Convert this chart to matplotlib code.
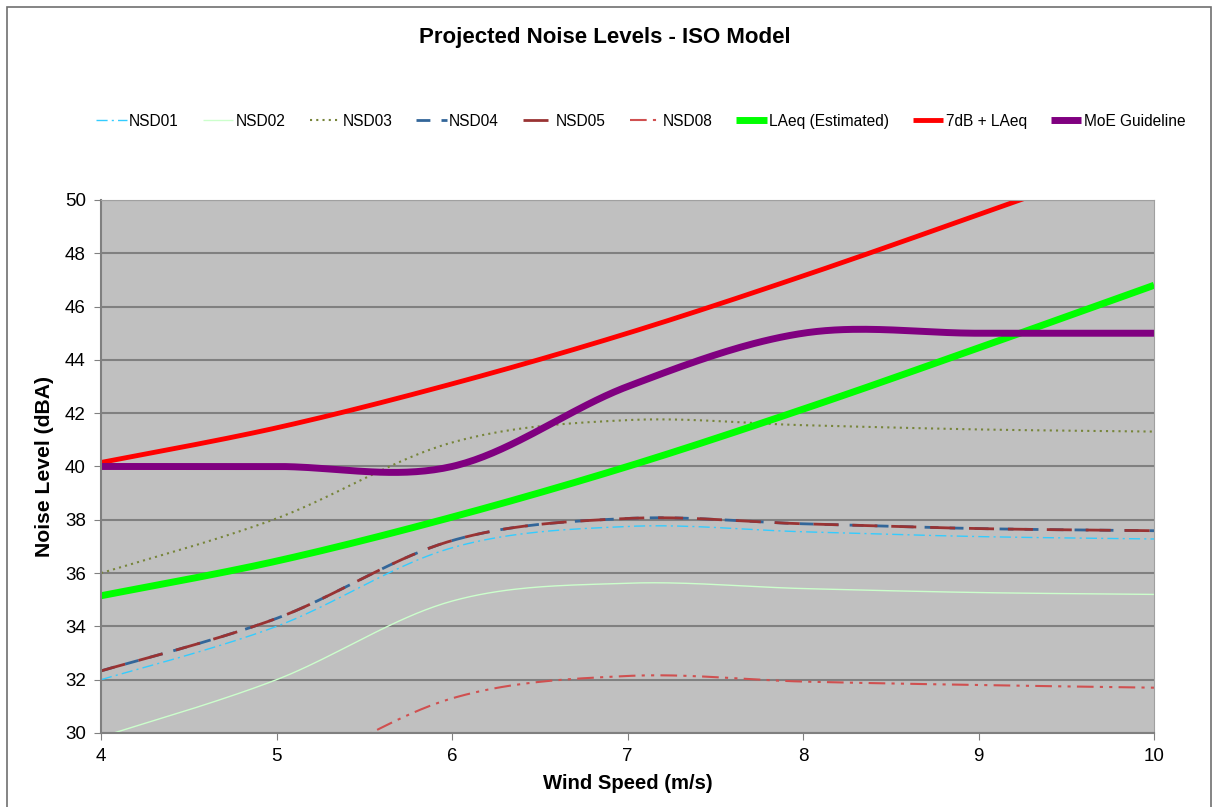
import numpy as np
import matplotlib.pyplot as plt

# wind speed (m/s) and projected levels (dBA)
wind_speed = [4, 5, 6, 7, 8, 9, 10]
nsd01 = [32.0, 34.0, 36.95, 37.75, 37.55, 37.37, 37.28]
nsd02 = [29.85, 32.0, 34.95, 35.62, 35.42, 35.27, 35.2]
nsd03 = [36.0, 38.05, 40.9, 41.74, 41.55, 41.39, 41.31]
nsd04 = [32.33, 34.3, 37.22, 38.05, 37.85, 37.67, 37.59]
nsd05 = [32.33, 34.3, 37.22, 38.05, 37.85, 37.67, 37.59]
nsd08 = [26.3, 28.3, 31.3, 32.14, 31.93, 31.8, 31.7]
laeq = [35.15, 36.45, 38.1, 40.0, 42.15, 44.45, 46.8]
laeq_7db = [40.15, 41.45, 43.1, 45.0, 47.15, 49.45, 51.8]
moe = [40, 40, 40, 43, 45, 45, 45]


def smooth(x, y, n=40):
    # Excel-style smoothed line (Catmull-Rom bezier)
    x = np.asarray(x, float)
    y = np.asarray(y, float)
    px = np.concatenate([[x[0]], x, [x[-1]]])
    py = np.concatenate([[y[0]], y, [y[-1]]])
    xs, ys = [], []
    t = np.linspace(0, 1, n)
    for i in range(1, len(px) - 2):
        p1 = np.array([px[i], py[i]])
        p2 = np.array([px[i + 1], py[i + 1]])
        c1 = p1 + (np.array([px[i + 1], py[i + 1]]) - np.array([px[i - 1], py[i - 1]])) / 6
        c2 = p2 - (np.array([px[i + 2], py[i + 2]]) - p1) / 6
        b = ((1 - t) ** 3)[:, None] * p1 + (3 * (1 - t) ** 2 * t)[:, None] * c1 \
            + (3 * (1 - t) * t ** 2)[:, None] * c2 + (t ** 3)[:, None] * p2
        xs.extend(b[:, 0])
        ys.extend(b[:, 1])
    return xs, ys


plt.rcParams['font.family'] = ['Liberation Sans', 'DejaVu Sans']

fig = plt.figure(figsize=(12.16, 8.07), dpi=100)
ax = fig.add_axes([0.0831, 0.0917, 0.866, 0.6605])
ax.set_facecolor('#C0C0C0')

series = [
    ("NSD01", nsd01, dict(color='#33CCFF', lw=1.0, ls=(0, (8, 3, 1.5, 3)))),
    ("NSD02", nsd02, dict(color='#CCFFCC', lw=1.0, ls='-')),
    ("NSD03", nsd03, dict(color='#77853A', lw=1.5, ls=(0, (1, 2)))),
    ("NSD04", nsd04, dict(color='#336699', lw=2.0, ls=(0, (5, 4)))),
    ("NSD05", nsd05, dict(color='#993333', lw=2.0, ls=(0, (9, 5)))),
    ("NSD08", nsd08, dict(color='#D05050', lw=1.5, ls=(0, (8, 3, 1.5, 3, 1.5, 3)))),
    ("LAeq (Estimated)", laeq, dict(color='#00FF00', lw=5.0, ls='-')),
    ("7dB + LAeq", laeq_7db, dict(color='#FF0000', lw=3.5, ls='-')),
    ("MoE Guideline", moe, dict(color='#800080', lw=5.0, ls='-')),
]

for name, vals, style in series:
    sx, sy = smooth(wind_speed, vals)
    ax.plot(sx, sy, label=name, solid_capstyle='butt', **style)

ax.set_xlim(4, 10)
ax.set_ylim(30, 50)
ax.set_xticks(wind_speed)
ax.set_yticks(np.arange(30, 51, 2))
ax.yaxis.grid(True, color='#808080', lw=1.5)
ax.set_axisbelow(True)
for s in ['top', 'right']:
    ax.spines[s].set_color('#A0A0A0')
for s in ['left', 'bottom']:
    ax.spines[s].set_color('#808080')
    ax.spines[s].set_linewidth(1.5)
ax.tick_params(axis='both', labelsize=13.5, length=5, color='#808080', pad=6)

ax.set_xlabel("Wind Speed (m/s)", fontsize=14.6, fontweight='bold', labelpad=6)
ax.set_ylabel("Noise Level (dBA)", fontsize=15.2, fontweight='bold', labelpad=8)
fig.suptitle("Projected Noise Levels - ISO Model", fontsize=16, fontweight='bold',
             x=0.497, y=0.967)

fig.legend(loc='center', bbox_to_anchor=(0.527, 0.85), ncol=9, frameon=False,
           fontsize=11.2, handlelength=1.95, handletextpad=0.15, columnspacing=1.55)

fig.add_artist(plt.Rectangle((7 / 1216, -0.01), (1211 - 7) / 1216, 1 - 7 / 807 + 0.01,
                             transform=fig.transFigure, fill=False, ec='#707070', lw=1.2))

plt.savefig("out.png", dpi=100)
